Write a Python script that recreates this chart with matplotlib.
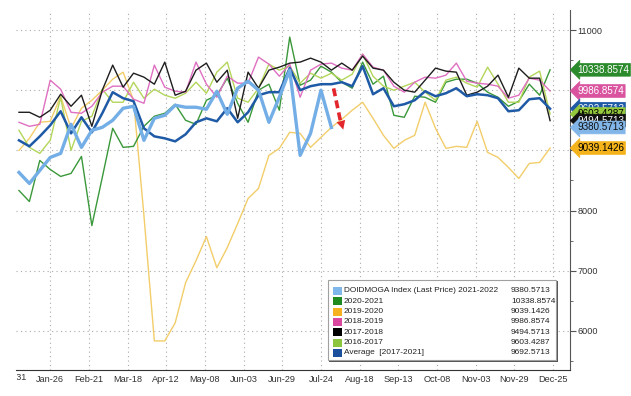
import matplotlib
matplotlib.use("Agg")
from matplotlib import pyplot as plt
from matplotlib.patches import Rectangle
from matplotlib import transforms

plt.rcParams['font.family'] = ['Liberation Sans', 'DejaVu Sans']

# weekly observations, x = day counted from Dec-31
weeks = [5 + 7 * i for i in range(52)]

tick_days = [0, 26, 52, 78, 104, 130, 156, 182, 208, 234, 260, 286, 312, 338, 364]
tick_labels = ['Dec-31', 'Jan-26', 'Feb-21', 'Mar-18', 'Apr-12', 'May-08', 'Jun-03',
               'Jun-29', 'Jul-24', 'Aug-18', 'Sep-13', 'Oct-08', 'Nov-03', 'Nov-29', 'Dec-25']

cur_2122 = [8633, 8450, 8667, 8883, 8950, 9433, 9050, 9333, 9383, 9500, 9700, 9733,
            9167, 9533, 9583, 9750, 9717, 9717, 9683, 9983, 9600, 10033, 10150, 10000,
            9467, 9883, 10333, 8917, 9283, 10000, 9380.5713]

y_2021 = [8333, 8150, 8833, 8683, 8567, 8617, 8900, 7750, 8550, 9367, 9050, 9067,
          9400, 9567, 9617, 9767, 9500, 9433, 9833, 9917, 10200, 9783, 9467, 10000,
          10100, 9667, 10883, 10083, 10167, 10400, 10300, 10133, 10033, 10467, 10100, 10233,
          9583, 9550, 9900, 9883, 9800, 10133, 10183, 10183, 10117, 9967, 9883, 9733,
          9817, 10100, 9917, 10338.8574]

y_1920 = [9000, 9200, 9467, 9483, 9900, 9367, 9700, 9833, 10000, 10183, 10300, 9833,
          7917, 5833, 5833, 6133, 6800, 7167, 7567, 7050, 7383, 7783, 8200, 8367,
          8917, 9033, 9300, 9283, 9050, 9217, 9383, 9517, 9667, 9800, 9533, 9250,
          9033, 9167, 9250, 9800, 9367, 9033, 9067, 9050, 9483, 8967, 8883, 8717,
          8533, 8783, 8800, 9039.1426]

y_1819 = [9467, 9400, 9433, 10167, 10017, 9633, 9617, 9733, 9967, 10067, 10067, 9850,
          9783, 10417, 10050, 9983, 9967, 10467, 10100, 9883, 10233, 10117, 10117, 10550,
          10433, 10233, 10433, 9883, 10333, 10433, 10450, 10367, 10333, 10600, 10383, 10333,
          10067, 9967, 10133, 10217, 10200, 10250, 10450, 10150, 10117, 10100, 10067, 9867,
          9917, 10200, 10167, 9986.8574]

y_1718 = [9633, 9633, 9550, 9667, 9933, 9733, 9917, 9400, 10000, 10417, 10050, 10283,
          10217, 10100, 10467, 9917, 9983, 10333, 10450, 10133, 10333, 9533, 10300, 10033,
          10333, 10383, 10450, 10467, 10533, 10467, 10333, 10450, 10333, 10567, 10367, 10333,
          10133, 10000, 9967, 10167, 10367, 10317, 10300, 9917, 9967, 10067, 10250, 9883,
          10367, 10200, 10200, 9494.5713]

y_1617 = [9333, 9050, 8950, 9167, 9883, 9000, 9483, 9567, 10017, 9800, 9800, 10133,
          9867, 10017, 9917, 9867, 9950, 10133, 9950, 10300, 10467, 9867, 9800, 10033,
          10433, 10333, 10400, 10117, 10283, 10200, 10283, 10167, 10267, 10600, 10233, 10067,
          10000, 10067, 10133, 9967, 9833, 10167, 10217, 10117, 10050, 10383, 10100, 9800,
          9800, 10217, 10317, 9603.4287]

avg_1721 = [9167, 9067, 9233, 9417, 9650, 9283, 9550, 9300, 9617, 9967, 9867, 9817,
            9367, 9233, 9200, 9150, 9267, 9467, 9533, 9483, 9700, 9467, 9633, 9917,
            9967, 9967, 10367, 10000, 10067, 10100, 10100, 10133, 10067, 10400, 9933, 10033,
            9733, 9767, 9833, 9983, 9900, 9950, 10033, 9900, 9933, 9917, 9867, 9650,
            9667, 9850, 9867, 9692.5713]

names = ['DOIDMOGA Index (Last Price) 2021-2022', '2020-2021', '2019-2020', '2018-2019',
         '2017-2018', '2016-2017', 'Average  [2017-2021]']
last_vals = ['9380.5713', '10338.8574', '9039.1426', '9986.8574', '9494.5713',
             '9603.4287', '9692.5713']

c_cur = '#74aee6'
c_2021 = '#3a983a'
c_1920 = '#f2cd6a'
c_1819 = '#df6fc0'
c_1718 = '#1e1e1e'
c_1617 = '#b3d65a'
c_avg = '#1f5aa6'

fig = plt.figure(figsize=(6.31, 3.96), dpi=100)
ax = fig.add_axes([16 / 631, 26 / 396, 554 / 631, 360 / 396])

ax.plot(weeks, y_1920, color=c_1920, lw=1.0, zorder=2)
ax.plot(weeks, y_2021, color=c_2021, lw=1.0, zorder=2)
ax.plot(weeks, y_1617, color=c_1617, lw=1.0, zorder=2)
ax.plot(weeks, y_1819, color=c_1819, lw=1.0, zorder=2)
ax.plot(weeks, y_1718, color=c_1718, lw=1.0, zorder=2)
ax.plot(weeks, avg_1721, color=c_avg, lw=1.8, zorder=3)
ax.plot(weeks[:len(cur_2122)], cur_2122, color=c_cur, lw=2.4, zorder=3)

ax.set_xlim(3.0, 375.4)
ax.set_ylim(5350, 11333)

ax.set_xticks(tick_days[1:])
ax.set_xticklabels(tick_labels[1:], fontsize=6.6, color='#333333')
ax.tick_params(axis='x', length=0, pad=3.5)
# first label sits left of the plot area; the picture is cut just left of it
t0 = ax.text(tick_days[0], -0.0097, tick_labels[0], fontsize=6.6, color='#333333',
             ha='center', va='top',
             transform=transforms.blended_transform_factory(ax.transData, ax.transAxes))
t0.set_clip_on(True)
t0.set_clip_box(transforms.TransformedBbox(transforms.Bbox([[16.5 / 631, 0], [1, 1]]), fig.transFigure))

ax.yaxis.tick_right()
ax.set_yticks([6000, 7000, 8000, 9000, 10000, 11000])
ax.set_yticks([5500, 6500, 7500, 8500, 9500, 10500], minor=True)
ax.tick_params(axis='y', which='major', length=4, pad=1.5, labelsize=6.6, labelcolor='#333333', color='#555555')
ax.tick_params(axis='y', which='minor', length=2, color='#555555')

ax.grid(True, which='major', color='#aaaaaa', linestyle=(0, (1, 3)), lw=0.8)
for s in ['left', 'top']:
    ax.spines[s].set_visible(False)
ax.spines['right'].set_color('#555555')
ax.spines['bottom'].set_color('#333333')

# red dashed arrow
ax.plot([216.5, 221.5], [10030, 9440], color='#e3262b', lw=2.6, ls=(0, (2.2, 1.2)), zorder=5)
ax.annotate('', xy=(223.5, 9300), xytext=(221.0, 9520),
            arrowprops=dict(arrowstyle='-|>', color='#e3262b', lw=0, mutation_scale=16), zorder=5)

# value tags on the right axis
tags = [(10338.8574, last_vals[1], '#2b8a2b', 'white'),
        (9986.8574, last_vals[3], '#d9539f', 'white'),
        (9039.1426, last_vals[2], '#f5b31b', 'black'),
        (9692.5713, last_vals[6], '#1f5aa6', 'white'),
        (9603.4287, last_vals[5], '#94c93d', 'black'),
        (9494.5713, last_vals[4], '#111111', 'white'),
        (9380.5713, last_vals[0], '#82b6e8', '#111111')]
tt = transforms.blended_transform_factory(ax.transAxes, ax.transData)
for v, s, bg, fg in tags:
    ax.text(1.0 + 7 / 554, v, s, transform=tt, fontsize=7.1, color=fg, ha='left', va='center',
            clip_on=False, zorder=10,
            bbox=dict(boxstyle='larrow,pad=0.14', fc=bg, ec=bg, lw=0.5))

# legend box
lg = fig.add_axes([328 / 631, 35 / 396, 229 / 631, 81 / 396])
lg.set_xlim(0, 229)
lg.set_ylim(81, 0)
lg.axis('off')
lg.add_patch(Rectangle((1, 1), 229, 81, fc='#555555', ec='none', clip_on=False, zorder=0))
lg.add_patch(Rectangle((0, 0), 228, 80, fc='white', ec='#a0a0a0', lw=0.8, clip_on=False, zorder=1))
sq_cols = ['#7fb7ea', '#1f8a1f', '#f5b120', '#d9479e', '#000000', '#8cc63f', '#1a4f9c']
for k in range(len(names)):
    yy = 11 + 10.3 * k
    lg.add_patch(Rectangle((5, yy - 4), 9, 8, fc=sq_cols[k], ec='none', zorder=2))
    lg.text(16, yy, names[k], fontsize=5.95, color='#222222', va='center', ha='left', zorder=3)
    lg.text(183, yy, last_vals[k], fontsize=6.0, color='#222222', va='center', ha='left', zorder=3)

fig.savefig('out.png', dpi=100)
